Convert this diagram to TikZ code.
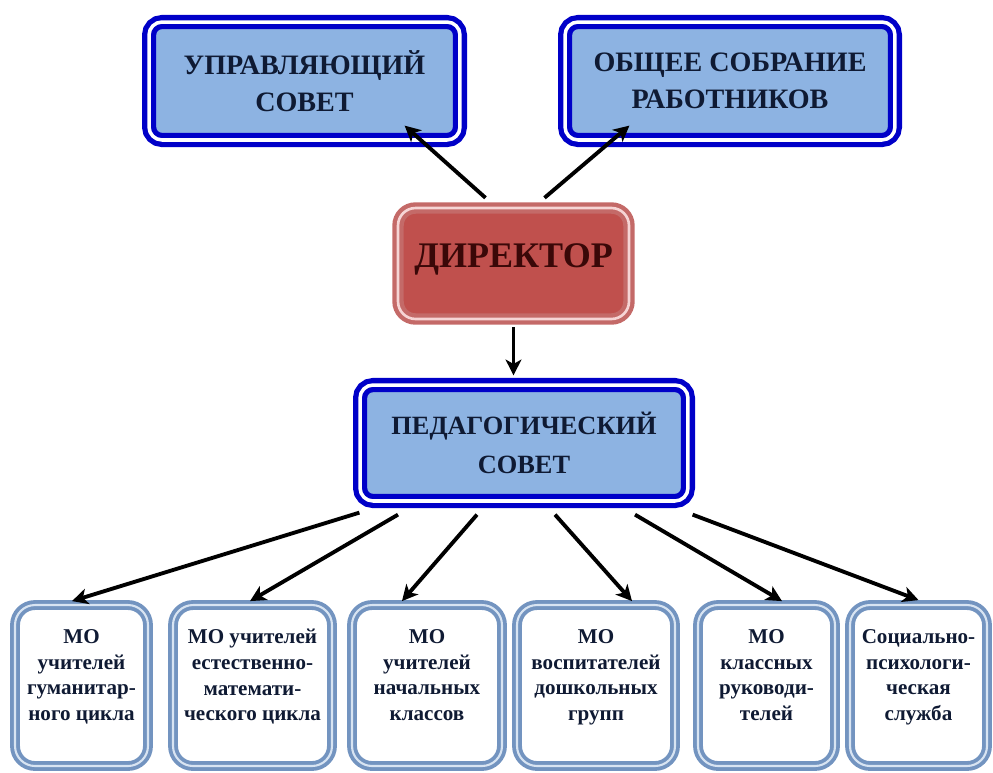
\documentclass[tikz,border=0pt]{standalone}
\usepackage{fontspec}
\setmainfont{Liberation Serif}
\usetikzlibrary{arrows.meta,calc}

\definecolor{boxblue}{HTML}{8DB3E2}
\definecolor{rimblue}{HTML}{0000C8}
\definecolor{boxred}{HTML}{C0504D}
\definecolor{rimred}{HTML}{C46A68}
\definecolor{rimpink}{HTML}{F6D5D5}
\definecolor{rimgray}{HTML}{7394C0}
\definecolor{rimlight}{HTML}{D8E4F2}
\definecolor{textnavy}{HTML}{0F1A33}
\definecolor{textmaroon}{HTML}{3A0808}

\tikzset{
  bluebox/.style={draw=rimblue,line width=3pt,double=white,double distance=2pt,
    fill=boxblue,rounded corners=0.26cm,align=center,text=textnavy,
    minimum height=2.36cm},
  redbox/.style={draw=rimred,line width=2.5pt,double=rimpink,double distance=1.5pt,
    fill=boxred,rounded corners=0.35cm,align=center,text=textmaroon,
    minimum width=4.62cm,minimum height=2.22cm,
    font=\bfseries\fontsize{20.5}{24}\selectfont,
    execute at end node={\rule[-9pt]{0pt}{0pt}}},
  mobox/.style={draw=rimgray,line width=2.2pt,double=rimlight,double distance=1.2pt,
    fill=white,rounded corners=0.4cm,align=center,text=textnavy,
    minimum height=3.22cm,inner sep=1pt,
    font=\bfseries\fontsize{12}{14.7}\selectfont,
    execute at begin node=\strut,
    execute at end node={\rule[-12pt]{0pt}{0pt}}}
}

\begin{document}
\begin{tikzpicture}[x=0.02cm,y=-0.02cm,>={Stealth[length=9pt,width=9pt,inset=2.5pt]},line width=2.2pt]
\useasboundingbox (0,0) rectangle (993,772);

\node[bluebox,minimum width=6.22cm,font=\bfseries\fontsize{16}{21}\selectfont]
  (upr) at (304.5,81) {УПРАВЛЯЮЩИЙ\\СОВЕТ};
\node[bluebox,minimum width=6.6cm,font=\bfseries\fontsize{16}{21}\selectfont]
  (obs) at (730,81) {ОБЩЕЕ СОБРАНИЕ\\РАБОТНИКОВ};
\node[redbox]  (dir) at (513.5,263.5) {ДИРЕКТОР};
\node[bluebox,minimum width=6.56cm,minimum height=2.32cm,
  font=\bfseries\fontsize{15}{22.5}\selectfont]
  (ped) at (524,443) {ПЕДАГОГИЧЕСКИЙ\\СОВЕТ};

% methodical units
\node[mobox,minimum width=2.66cm] (gum) at (81.5,685.5) {МО\\учителей\\гуманитар-\\ного цикла};
\node[mobox,minimum width=3.18cm] (est) at (252.5,685.5) {МО учителей\\естественно-\\математи-\\ческого цикла};
\node[mobox,minimum width=3.0cm]  (nach) at (427,685.5) {МО\\учителей\\начальных\\классов};
\node[mobox,minimum width=3.16cm] (dosh) at (596,685.5) {МО\\воспитателей\\дошкольных\\групп};
\node[mobox,minimum width=2.74cm] (kl) at (766.5,685.5) {МО\\классных\\руководи-\\телей};
\node[mobox,minimum width=2.74cm] (soc) at (918.5,685.5) {Социально-\\психологи-\\ческая\\служба};

\path[->] ($(dir.north)+(-28,-8)$) edge ($(upr.south east)+(-58,-17)$)
          ($(dir.north)+(31,-8)$)  edge ($(obs.south west)+(67,-17)$)
          ($(dir.south)+(0,6)$)    edge ($(dir.south |- ped.north)+(0,-7)$);

\path[->] ($(ped.south west)+(2,9)$)  edge ($(gum.north)+(-9.5,-2)$)
          ($(ped.south)+(-126,11)$)   edge ($(est.north)+(-2.5,-2)$)
          ($(ped.south)+(-47,11)$)    edge ($(nach.north)+(-25,-2)$)
          ($(ped.south)+(31,11)$)     edge ($(dosh.north)+(36,-2)$)
          ($(ped.south)+(111,11)$)    edge ($(kl.north)+(15.5,-2)$)
          ($(ped.south east)+(2,11)$) edge ($(soc.north)+(0,-3)$);

\end{tikzpicture}
\end{document}
